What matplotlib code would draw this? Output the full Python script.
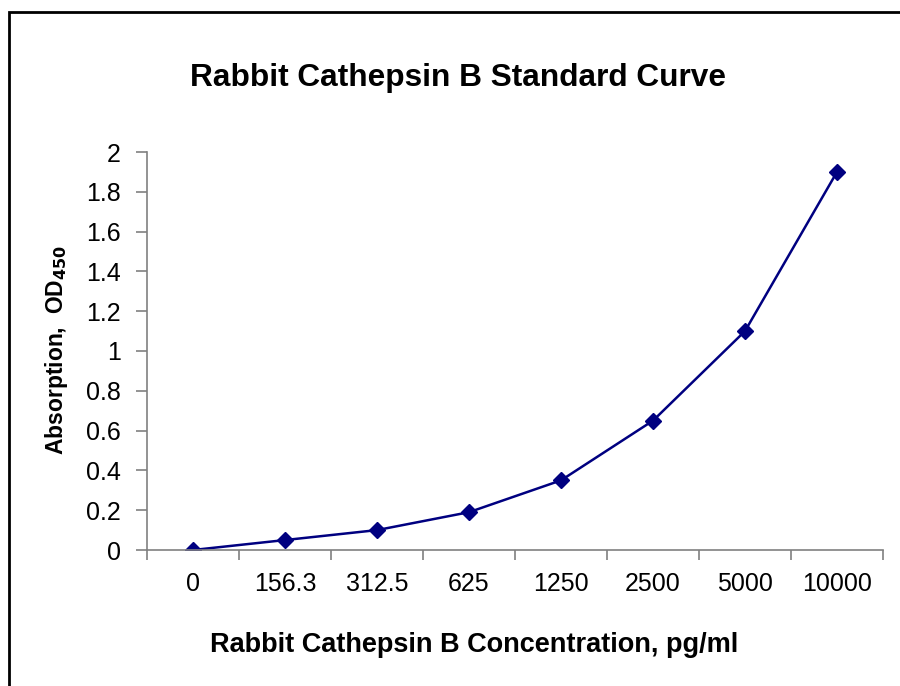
import matplotlib
matplotlib.use("Agg")
import matplotlib.pyplot as plt
from matplotlib.patches import Rectangle

# Standard curve data
concentrations = ["0", "156.3", "312.5", "625", "1250", "2500", "5000", "10000"]
absorbance = [0.0, 0.05, 0.10, 0.19, 0.35, 0.65, 1.10, 1.90]
y_ticks = [0, 0.2, 0.4, 0.6, 0.8, 1, 1.2, 1.4, 1.6, 1.8, 2]

plt.rcParams['font.family'] = ['Liberation Sans', 'DejaVu Sans']

fig = plt.figure(figsize=(9, 6.86), dpi=100)
ax = fig.add_axes([147 / 900, 1 - 550 / 686, (883 - 147) / 900, (550 - 152) / 686])

# outer chart frame (only left/top edges visible in the picture)
fig.patches.append(Rectangle((9 / 900, -0.1), 1.2, 1 - 11.5 / 686 + 0.1,
                             transform=fig.transFigure, fill=False,
                             edgecolor='black', linewidth=2))

x = list(range(len(concentrations)))
ax.plot(x, absorbance, color='#000080', marker='D', markersize=8.5, linewidth=1.8)

ax.set_xlim(-0.5, len(concentrations) - 0.5)
ax.set_ylim(0, 2)
ax.set_yticks(y_ticks)
ax.set_yticklabels([f"{t:g}" for t in y_ticks], fontsize=18)

ax.set_xticks(x)
ax.set_xticklabels(concentrations, fontsize=18)
ax.tick_params(axis='x', length=0, pad=16)
# tick marks between categories
ax.set_xticks([i - 0.5 for i in range(len(concentrations) + 1)], minor=True)
ax.tick_params(axis='x', which='minor', length=7, color='#808080', width=1.2)
ax.tick_params(axis='y', length=8, color='#808080', width=1.2, pad=11)

for side in ['top', 'right']:
    ax.spines[side].set_visible(False)
for side in ['left', 'bottom']:
    ax.spines[side].set_color('#808080')
    ax.spines[side].set_linewidth(1.2)

fig.text(458 / 900, 1 - 78 / 686, "Rabbit Cathepsin B Standard Curve",
         ha='center', va='center', fontsize=22.8, fontweight='bold')
fig.text(474 / 900, 1 - 645 / 686, "Rabbit Cathepsin B Concentration, pg/ml",
         ha='center', va='center', fontsize=19.5, fontweight='bold')
fig.text(57 / 900, 1 - 350 / 686, r"Absorption,  OD$_\mathbf{450}$",
         ha='center', va='center', rotation=90, fontsize=16.5, fontweight='bold')

fig.savefig("out.png", dpi=100)
